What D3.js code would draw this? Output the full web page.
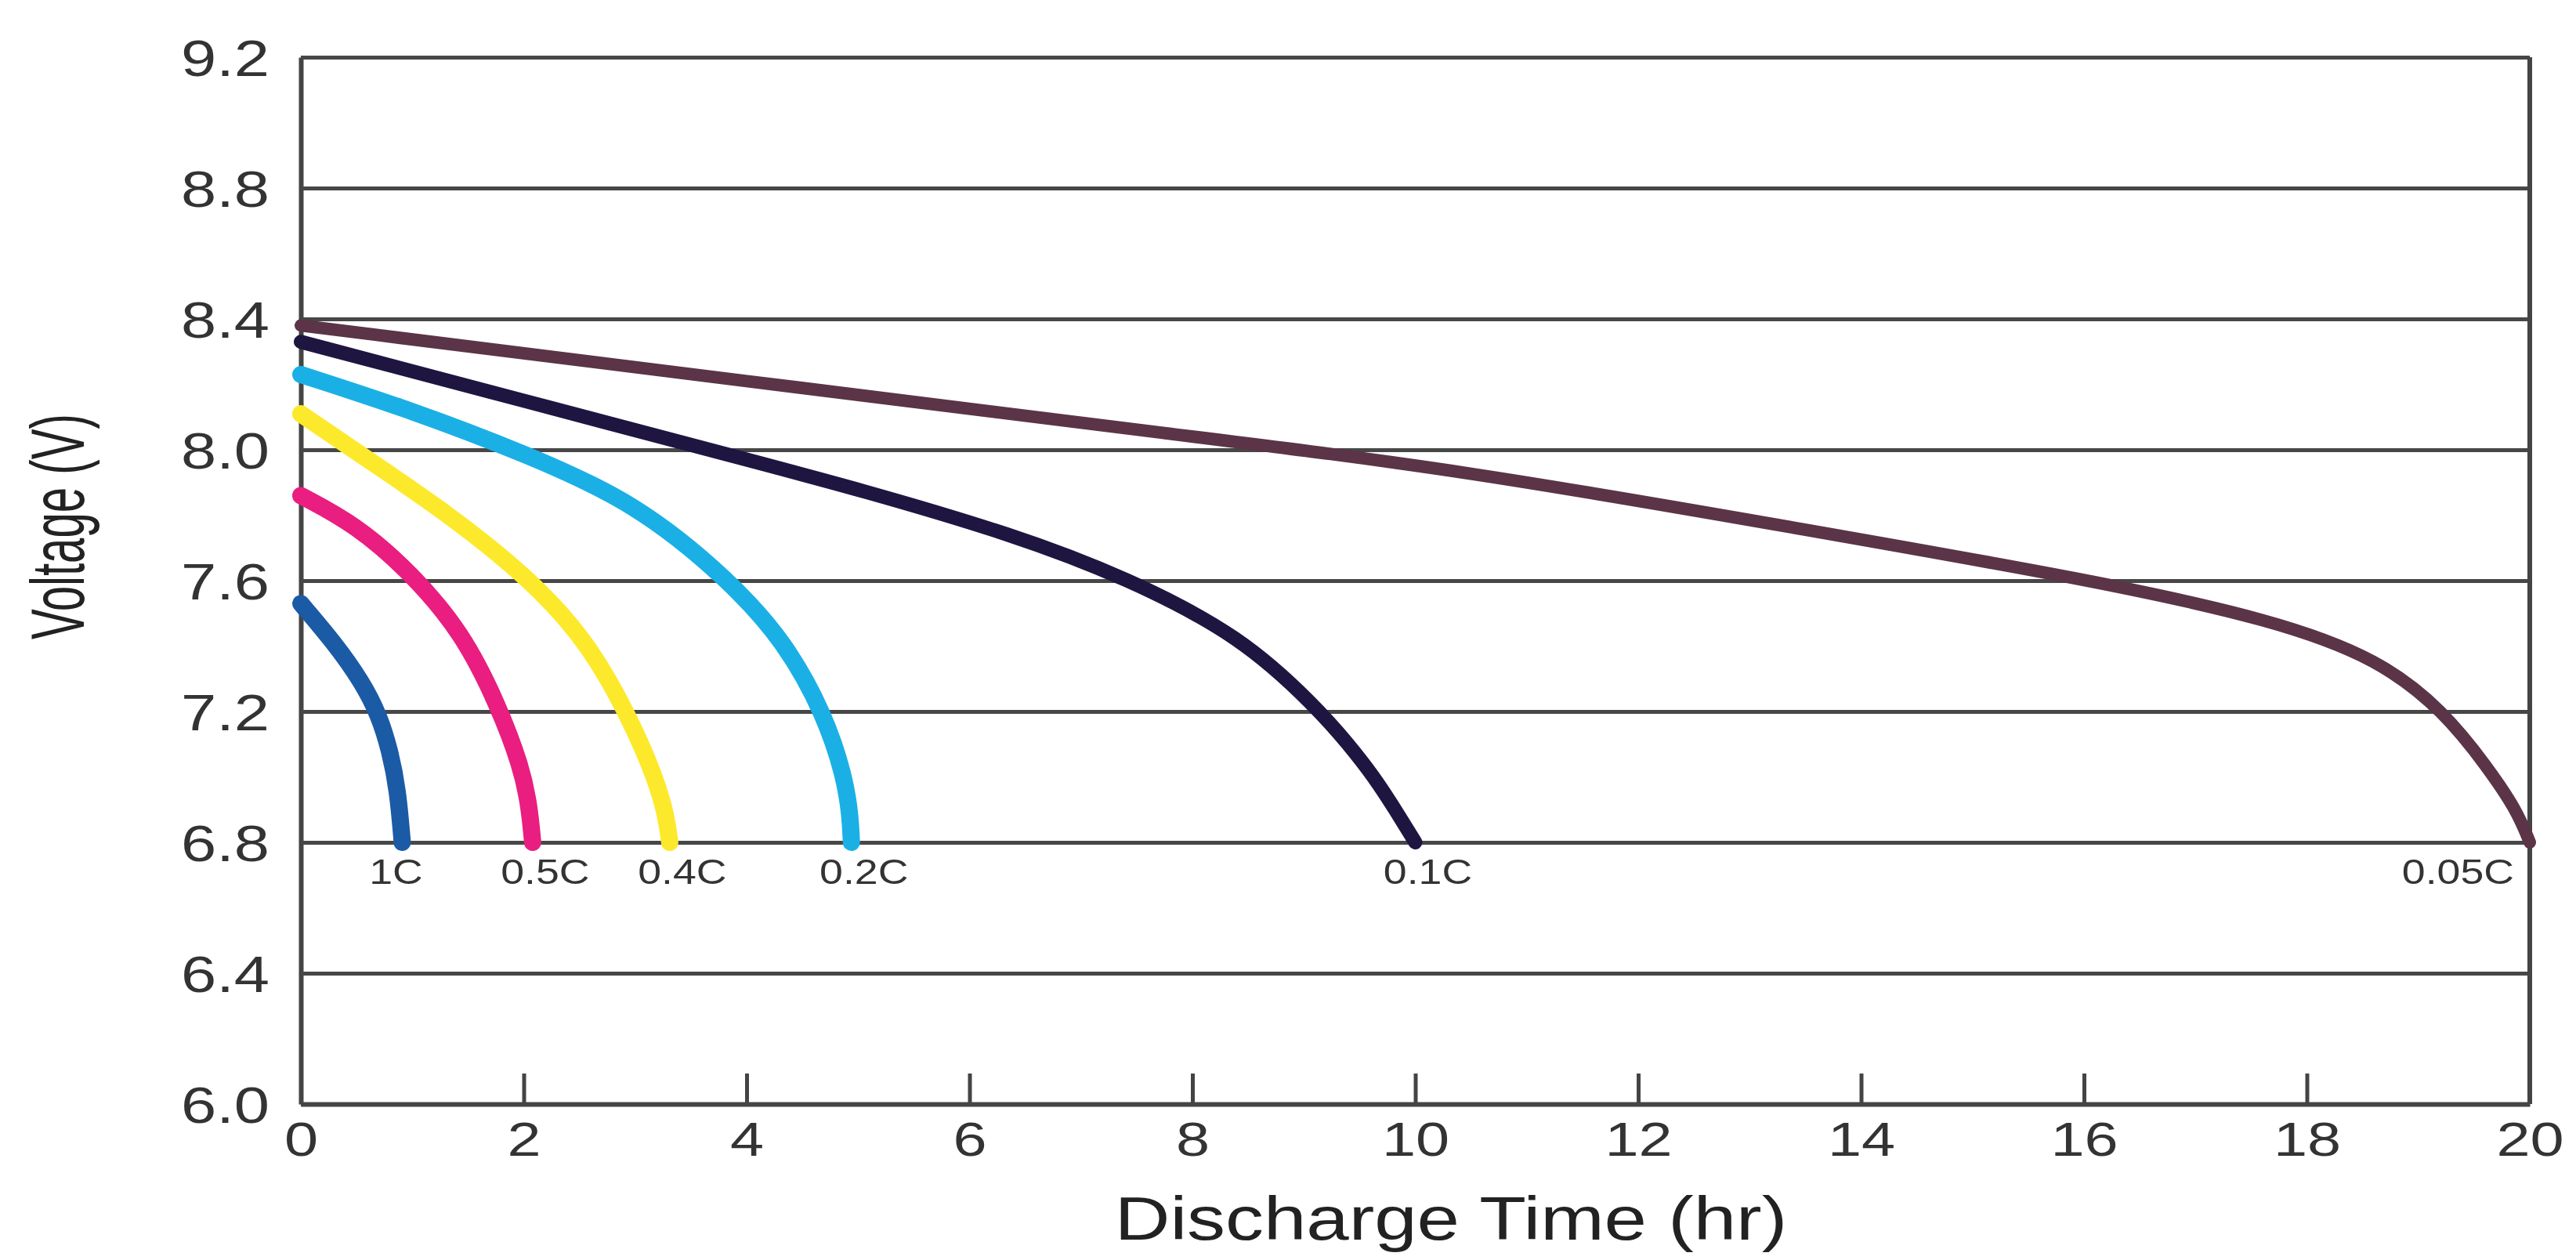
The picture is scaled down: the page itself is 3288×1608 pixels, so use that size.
<!DOCTYPE html>
<html>
<head>
<meta charset="utf-8">
<script src="https://cdn.jsdelivr.net/npm/d3@7"></script>
<style>
body { margin: 0; background: #fff; }
text { font-family: "Liberation Sans", Arial, sans-serif; }
</style>
</head>
<body>
<script>
// Size and plot box
var w = 3288;
var h = 1608;
var padLeft = 384, padRight = 3229, padTop = 73, padBottom = 1409;
var stretch = 1.27; // the source text is drawn wide

// Tick values
var xTicks = [0, 2, 4, 6, 8, 10, 12, 14, 16, 18, 20];
var yTicks = [6.0, 6.4, 6.8, 7.2, 7.6, 8.0, 8.4, 8.8, 9.2];

// Discharge curves: [hours, volts]
var rates = ["1C", "0.5C", "0.4C", "0.2C", "0.1C", "0.05C"];
var curve1C = [[0,7.53],[0.3,7.41],[0.55,7.29],[0.7,7.19],[0.8,7.08],[0.87,6.96],[0.91,6.8]];
var curve05C = [[0,7.86],[0.5,7.77],[1.0,7.62],[1.45,7.44],[1.77,7.22],[1.98,7.03],[2.05,6.91],[2.08,6.8]];
var curve04C = [[0,8.11],[0.6,7.97],[1.3,7.81],[2.08,7.60],[2.6,7.40],[2.95,7.18],[3.18,7.0],[3.28,6.88],[3.31,6.8]];
var curve02C = [[0,8.23],[1.0,8.12],[2.0,7.99],[3.0,7.84],[3.85,7.60],[4.35,7.41],[4.7,7.19],[4.88,7.0],[4.93,6.88],[4.94,6.8]];
var curve01C = [[0,8.33],[2,8.15],[4,7.97],[5,7.88],[6.4,7.74],[7.4,7.61],[8.44,7.43],[9.12,7.21],[9.4,7.1],[9.63,7.0],[9.82,6.9],[10,6.8]];
var curve005C = [[0,8.38],[4,8.21],[8,8.04],[10.4,7.94],[13.6,7.75],[16.1,7.60],[17.7,7.48],[18.65,7.36],[19.23,7.2],[19.62,7.03],[19.88,6.9],[20,6.8]];

var curves = [curve1C, curve05C, curve04C, curve02C, curve01C, curve005C];
var colors = ["#1b5ba5", "#e91e80", "#fde92b", "#1ab0e6", "#1e1640", "#5b3447"];
var widths = [22, 22, 22, 22, 18, 16];

var svg = d3.select("body")
            .append("svg")
            .attr("width", w)
            .attr("height", h);

svg.append("rect").attr("width", w).attr("height", h).attr("fill", "#fff");

var xScale = d3.scaleLinear().domain([0, 20]).range([padLeft, padRight]);
var yScale = d3.scaleLinear().domain([6.0, 9.2]).range([padBottom, padTop]);

/**** Y axis with full-width grid lines ****/
var yAxis = d3.axisLeft(yScale)
              .tickValues(yTicks)
              .tickSizeInner(-(padRight - padLeft))
              .tickSizeOuter(0)
              .tickFormat(d3.format(".1f"));
var gy = svg.append("g")
            .attr("transform", "translate(" + padLeft + ",0)")
            .call(yAxis);
gy.select(".domain").attr("stroke", "#444").attr("stroke-width", 6);
gy.selectAll(".tick line").attr("stroke", "#474747").attr("stroke-width", 5);
gy.selectAll(".tick text")
  .attr("x", null)
  .attr("dy", "0.36em")
  .attr("text-anchor", "end")
  .attr("transform", "translate(-40,0) scale(" + stretch + ",1)")
  .attr("font-size", 64)
  .attr("fill", "#333");

/**** X axis, ticks point inward ****/
var xAxis = d3.axisBottom(xScale)
              .tickValues(xTicks)
              .tickSizeInner(-39)
              .tickSizeOuter(0)
              .tickFormat(d3.format("d"));
var gx = svg.append("g")
            .attr("transform", "translate(0," + padBottom + ")")
            .call(xAxis);
gx.select(".domain").attr("stroke", "#444").attr("stroke-width", 6);
gx.selectAll(".tick line")
  .attr("stroke", "#444")
  .attr("stroke-width", 5)
  .attr("display", function(d) { return (d === 0 || d === 20) ? "none" : null; });
gx.selectAll(".tick text")
  .attr("y", null)
  .attr("dy", null)
  .attr("transform", "translate(0,66) scale(" + stretch + ",1)")
  .attr("font-size", 61)
  .attr("fill", "#333");

// right border
svg.append("line")
   .attr("x1", xScale(20)).attr("x2", xScale(20))
   .attr("y1", yScale(9.2)).attr("y2", yScale(6.0))
   .attr("stroke", "#444")
   .attr("stroke-width", 6);

/**** Curves ****/
var line = d3.line()
             .x(function(d) { return xScale(d[0]); })
             .y(function(d) { return yScale(d[1]); })
             .curve(d3.curveBasis);

svg.selectAll(".curve")
   .data(curves)
   .enter()
   .append("path")
   .attr("class", "curve")
   .attr("d", line)
   .attr("fill", "none")
   .attr("stroke", function(d, i) { return colors[i]; })
   .attr("stroke-width", function(d, i) { return widths[i]; })
   .attr("stroke-linecap", "round")
   .attr("stroke-linejoin", "round");

/**** Rate labels under each curve end ****/
svg.selectAll(".rate")
   .data(curves)
   .enter()
   .append("text")
   .attr("class", "rate")
   .attr("text-anchor", function(d, i) { return i === 5 ? "end" : "middle"; })
   .attr("transform", function(d, i) {
     var end = d[d.length - 1];
     var dx = i === 0 ? -8 : (i === 5 ? -20 : 16);
     return "translate(" + (xScale(end[0]) + dx) + "," + (yScale(end[1]) + 53) + ") scale(1.22,1)";
   })
   .attr("font-size", 44)
   .attr("fill", "#333")
   .text(function(d, i) { return rates[i]; });

/**** Axis titles ****/
svg.append("text")
   .attr("text-anchor", "middle")
   .attr("transform", "translate(1852,1582) scale(" + stretch + ",1)")
   .attr("font-size", 77)
   .attr("fill", "#222")
   .text("Discharge Time (hr)");

svg.append("text")
   .attr("text-anchor", "middle")
   .attr("dy", "0.36em")
   .attr("transform", "translate(72,672) rotate(-90) scale(0.6,1)")
   .attr("font-size", 97)
   .attr("fill", "#222")
   .text("Voltage (V)");
</script>
</body>
</html>
